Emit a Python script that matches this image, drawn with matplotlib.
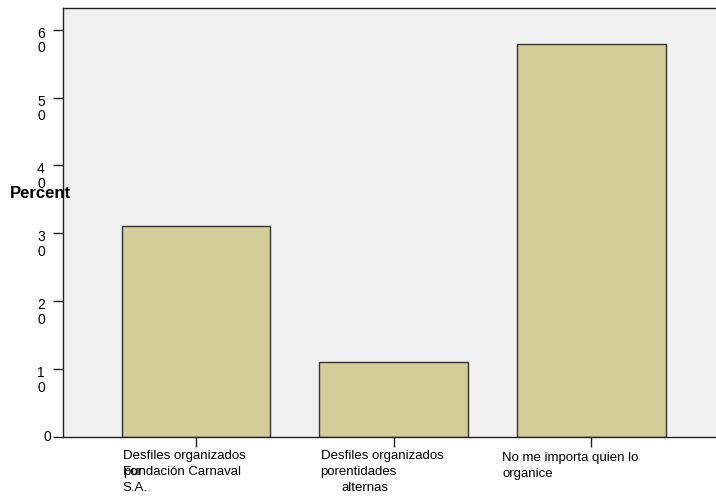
import numpy as np
import matplotlib.pyplot as plt

plt.rcParams['font.family'] = ['Liberation Sans', 'DejaVu Sans']

categories = ['Desfiles organizados por Fundación Carnaval S.A.',
              'Desfiles organizados por entidades alternas',
              'No me importa quien lo organice']
percent = [31.1, 11.0, 57.9]
yticks = [0, 10, 20, 30, 40, 50, 60]

# label lines as they are wrapped (and overlapped) in the original
xlabel_lines = [
    [('Desfiles organizados', 0, 0), ('por', 0, 16), ('Fundación Carnaval', 0, 16), ('S.A.', 0, 32)],
    [('Desfiles organizados', 0, 0), ('porentidades', 0, 16), ('alternas', 21, 32)],
    [('No me importa quien lo', 0, 2), ('organice', 0, 18)],
]
xlabel_dx = [-73, -73, -89]

fig = plt.figure(figsize=(7.16, 4.97), dpi=100)
W, H = 716, 497
ax = fig.add_axes([63 / W, (H - 437) / H, (716 - 63) / W, (437 - 8) / H])
ax.set_facecolor('#f0f0f0')

x = np.arange(len(categories))
ax.bar(x, percent, width=0.75, color='#d3ce97', edgecolor='#333333', linewidth=1)

ax.set_xlim(-0.672, 2.63)
ax.set_ylim(0, 63.2)

for s in ['top', 'left', 'bottom']:
    ax.spines[s].set_color('#222222')
    ax.spines[s].set_linewidth(1)
ax.spines['right'].set_visible(False)

ax.set_xticks(x)
ax.set_xticklabels([])
ax.set_yticks(yticks)
ax.set_yticklabels([])
ax.tick_params(axis='both', direction='out', length=7.2, width=1, color='#222222')

for v in yticks:
    s = str(v)
    if len(s) == 1:
        ax.annotate(s, xy=(0, v), xycoords=('axes fraction', 'data'),
                    xytext=(-20, 0), textcoords='offset pixels',
                    ha='left', va='center', fontsize=10)
    else:
        ax.annotate('\n'.join(s), xy=(0, v), xycoords=('axes fraction', 'data'),
                    xytext=(-26, 3), textcoords='offset pixels',
                    ha='left', va='top', fontsize=10, linespacing=1.05)

for i, lines in enumerate(xlabel_lines):
    for txt, dx, dy in lines:
        ax.annotate(txt, xy=(x[i], 0), xycoords=('data', 'axes fraction'),
                    xytext=(xlabel_dx[i] + dx, -13 - dy), textcoords='offset pixels',
                    ha='left', va='top', fontsize=9.5)

fig.text(40 / W, 1 - 193 / H, 'Percent', ha='center', va='center',
         fontsize=12, fontweight='bold')

fig.savefig('out.png', dpi=100)
